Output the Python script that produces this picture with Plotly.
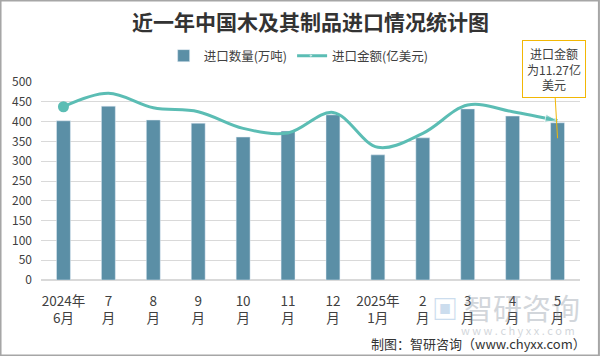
import plotly.graph_objects as go

categories = ["2024年<br>6月", "7<br>月", "8<br>月", "9<br>月", "10<br>月", "11<br>月",
              "12<br>月", "2025年<br>1月", "2<br>月", "3<br>月", "4<br>月", "5<br>月"]
volume = [402, 439, 404, 396, 361, 376, 417, 316, 359, 432, 414, 397]          # 万吨
amount = [12.25, 13.2, 12.18, 11.9, 10.72, 10.4, 11.85, 9.38, 10.37, 12.37, 11.9, 11.27]  # 亿美元
y_ticks = [0, 50, 100, 150, 200, 250, 300, 350, 400, 450, 500]

FONT = "Noto Sans CJK SC"
BAR = "#5B8FA6"
LINE = "#5BBDB4"

fig = go.Figure()
fig.add_trace(go.Bar(
    x=categories, y=volume, name="进口数量(万吨)",
    marker=dict(color=BAR), width=0.31,
))
n = len(amount)
fig.add_trace(go.Scatter(
    x=categories, y=amount, name="进口金额(亿美元)", yaxis="y2",
    mode="lines+markers",
    line=dict(color=LINE, width=3, shape="spline", smoothing=1.0),
    marker=dict(color=LINE,
                symbol=["arrow"] * n,
                size=[0] * (n - 1) + [13],
                angleref="previous"),
))
# start dot of the line
fig.add_trace(go.Scatter(
    x=categories[:1], y=amount[:1], yaxis="y2", mode="markers", showlegend=False,
    marker=dict(color=LINE, symbol="circle", size=11),
))

fig.update_layout(
    width=600, height=356,
    margin=dict(l=41, r=20, t=82, b=76, autoexpand=False),
    paper_bgcolor="white", plot_bgcolor="white",
    font=dict(family=FONT, size=12, color="#404040"),
    title=dict(text="<b>近一年中国木及其制品进口情况统计图</b>", x=0.5, xanchor="center",
               xref="paper", y=1 - 23 / 356, yanchor="middle",
               font=dict(family=FONT, size=21, color="#333333")),
    legend=dict(orientation="h", x=0.478, xanchor="center", yref="container",
                y=1 - 56 / 356, yanchor="middle",
                font=dict(size=12.5, color="#404040"), itemwidth=30,
                bgcolor="rgba(0,0,0,0)"),
    showlegend=True,
    xaxis=dict(type="category", range=[-0.5, len(categories) - 0.5],
               showgrid=False, showline=False, ticks="", automargin=False,
               ticklabelstandoff=11,
               tickfont=dict(size=13.5, color="#404040"), fixedrange=True),
    yaxis=dict(range=[0, 500], tickvals=y_ticks, showgrid=True, gridcolor="#D9D9D9",
               gridwidth=1, zeroline=True, zerolinecolor="#D9D9D9", showline=False,
               automargin=False,
               tickfont=dict(size=12, color="#404040"), ticklabelstandoff=8),
    yaxis2=dict(range=[0, 14], overlaying="y", visible=False, automargin=False),
)

# callout box
fig.add_annotation(
    x=categories[-1], y=358, xref="x", yref="y",
    text="进口金额<br>为11.27亿<br>美元", showarrow=True, arrowhead=0,
    arrowcolor="#F2B705", arrowwidth=1, ax=-4, ay=-69,
    bordercolor="#F2B705", borderwidth=1, borderpad=4, bgcolor="white",
    font=dict(size=12, color="#404040"), align="center",
)

# watermark
fig.add_annotation(xref="paper", yref="paper", x=1.003, y=(280 - 307) / 198, xanchor="right",
                   yanchor="middle", text="智研咨询", showarrow=False, opacity=0.35,
                   font=dict(size=29, color="#7F8C99"))
fig.add_annotation(xref="paper", yref="paper", x=(430 - 41) / 539, y=(280 - 307) / 198,
                   xanchor="left", yanchor="middle", text="<b>▣</b>", showarrow=False,
                   opacity=0.35, font=dict(size=26, color="#6FA0D0"))
fig.add_annotation(xref="paper", yref="paper", x=0.995, y=(280 - 330) / 198, xanchor="right",
                   yanchor="middle", text="w w w . c h y x x . c o m", showarrow=False,
                   opacity=0.35, font=dict(size=11, color="#7F8C99"))
fig.add_annotation(xref="paper", yref="paper", x=(588 - 41) / 539, y=(280 - 343) / 198,
                   xanchor="right", yanchor="middle",
                   text="制图：智研咨询（www.chyxx.com）", showarrow=False,
                   font=dict(size=13, color="#333333"))

# outer frame
fig.add_shape(type="rect", xref="paper", yref="paper",
              x0=-41 / 539 + 0.001, x1=(539 + 20) / 539 - 0.002,
              y0=-76 / 198 + 0.003, y1=(198 + 82) / 198 - 0.003,
              line=dict(color="#A6A6A6", width=2), layer="below")

fig.write_html("out.html", config={"displayModeBar": False},
               post_script="document.body.style.margin='0';")
